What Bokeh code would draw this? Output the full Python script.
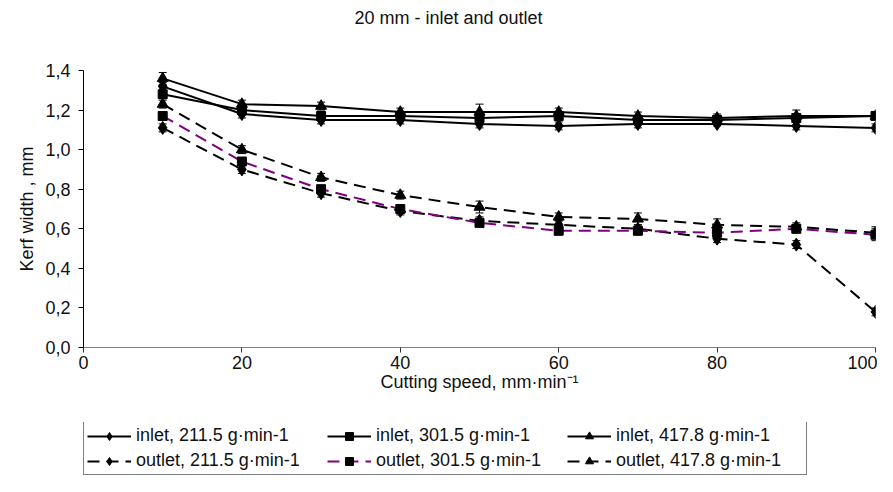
from bokeh.plotting import figure
from bokeh.layouts import column
from bokeh.models import (Legend, LegendItem, ColumnDataSource, Whisker, TeeHead,
                          FixedTicker, CustomJSTickFormatter, Range1d, Title)
from bokeh.embed import file_html
from bokeh.resources import INLINE

speed = [10, 20, 30, 40, 50, 60, 70, 80, 90, 100]

inlet_211 = [1.32, 1.18, 1.15, 1.15, 1.13, 1.12, 1.13, 1.13, 1.12, 1.11]
inlet_301 = [1.28, 1.20, 1.17, 1.17, 1.16, 1.17, 1.15, 1.15, 1.16, 1.17]
inlet_417 = [1.36, 1.23, 1.22, 1.19, 1.19, 1.19, 1.17, 1.16, 1.17, 1.17]
outlet_211 = [1.11, 0.90, 0.78, 0.69, 0.64, 0.62, 0.60, 0.55, 0.52, 0.18]
outlet_301 = [1.17, 0.94, 0.80, 0.70, 0.63, 0.59, 0.59, 0.58, 0.60, 0.57]
outlet_417 = [1.23, 1.00, 0.86, 0.77, 0.71, 0.66, 0.65, 0.62, 0.61, 0.58]

err_inlet_211 = [0.02, 0.02, 0.02, 0.02, 0.02, 0.02, 0.02, 0.01, 0.02, 0.02]
err_inlet_301 = [0.02, 0.02, 0.02, 0.02, 0.02, 0.02, 0.02, 0.02, 0.02, 0.02]
err_inlet_417 = [0.03, 0.02, 0.02, 0.02, 0.04, 0.02, 0.02, 0.02, 0.03, 0.02]
err_outlet_211 = [0.02, 0.02, 0.02, 0.02, 0.02, 0.02, 0.02, 0.02, 0.02, 0.02]
err_outlet_301 = [0.02, 0.02, 0.02, 0.02, 0.02, 0.02, 0.02, 0.02, 0.02, 0.03]
err_outlet_417 = [0.02, 0.02, 0.02, 0.02, 0.03, 0.02, 0.03, 0.03, 0.02, 0.03]

labels = ["inlet, 211.5 g\u00b7min-1", "inlet, 301.5 g\u00b7min-1", "inlet, 417.8 g\u00b7min-1",
          "outlet, 211.5 g\u00b7min-1", "outlet, 301.5 g\u00b7min-1", "outlet, 417.8 g\u00b7min-1"]
x_ticks = [0, 20, 40, 60, 80, 100]
y_ticks = [0.0, 0.2, 0.4, 0.6, 0.8, 1.0, 1.2, 1.4]

FONT = "Liberation Sans"
FS = "18px"

p = figure(width=877, height=422, output_backend="svg", toolbar_location=None,
           x_range=Range1d(0, 100), y_range=Range1d(0, 1.4),
           min_border_left=83, min_border_right=2, min_border_top=70, min_border_bottom=75)
p.outline_line_color = None
p.xgrid.visible = False
p.ygrid.visible = False

# spacer (nearest the frame) then the real title above it
spacer = Title(text=" ", text_font_size="10px", standoff=30)
p.add_layout(spacer, "above")
ttl = Title(text="20 mm - inlet and outlet", align="left", offset=271,
            text_font=FONT, text_font_size=FS, text_font_style="normal",
            text_color="#111111", standoff=0)
p.add_layout(ttl, "above")

p.xaxis.ticker = FixedTicker(ticks=x_ticks)
p.yaxis.ticker = FixedTicker(ticks=y_ticks)
p.yaxis.formatter = CustomJSTickFormatter(code="return tick.toFixed(1).replace('.', ',');")
for ax in (p.xaxis, p.yaxis):
    ax.major_label_text_font = FONT
    ax.major_label_text_font_size = FS
    ax.major_label_text_color = "#111111"
    ax.axis_label_text_font = FONT
    ax.axis_label_text_font_size = FS
    ax.axis_label_text_font_style = "normal"
    ax.axis_label_text_color = "#111111"
    ax.minor_tick_line_color = None
    ax.major_tick_out = 5
    ax.major_tick_in = 0
p.xaxis.axis_line_color = "#808080"
p.xaxis.major_tick_line_color = "#333333"
p.yaxis.axis_line_color = "#000000"
p.yaxis.major_tick_line_color = "#000000"
p.xaxis.axis_label = "Cutting speed, mm\u00b7min\u207b\u00b9"
p.yaxis.axis_label = "Kerf width , mm"
p.xaxis.major_label_standoff = 3
p.xaxis.axis_label_standoff = 0
p.yaxis.major_label_standoff = 8
p.yaxis.axis_label_standoff = 5

series = [
    (inlet_211, err_inlet_211, "diamond", 13, "solid", "black"),
    (inlet_301, err_inlet_301, "square", 9, "solid", "black"),
    (inlet_417, err_inlet_417, "triangle", 11, "solid", "black"),
    (outlet_211, err_outlet_211, "diamond", 13, "12 7", "black"),
    (outlet_301, err_outlet_301, "square", 9, "12 7", "#800080"),
    (outlet_417, err_outlet_417, "triangle", 11, "12 7", "black"),
]

# second strip holding only the legend
q = figure(width=877, height=54, output_backend="svg", toolbar_location=None,
           x_range=Range1d(0, 1), y_range=Range1d(0, 1),
           min_border_left=0, min_border_right=0, min_border_top=0, min_border_bottom=0,
           x_axis_location=None, y_axis_location=None)
q.outline_line_color = None
q.xgrid.visible = False
q.ygrid.visible = False

items = []
for (vals, errs, marker, msize, dash, color), label in zip(series, labels):
    src = ColumnDataSource(dict(x=speed, y=vals,
                                upper=[v + e for v, e in zip(vals, errs)],
                                lower=[v - e for v, e in zip(vals, errs)]))
    p.line("x", "y", source=src, line_color=color, line_width=2, line_dash=dash)
    w = Whisker(base="x", upper="upper", lower="lower", source=src,
                line_color="black", line_width=1,
                upper_head=TeeHead(size=8, line_color="black", line_width=1),
                lower_head=TeeHead(size=8, line_color="black", line_width=1))
    p.add_layout(w)
    p.scatter("x", "y", source=src, marker=marker, size=msize,
              fill_color="black", line_color="black")
    # legend samples (renderers hidden, only their legend glyphs show)
    lr = q.line("x", "y", source=src, line_color=color, line_width=2, line_dash=dash,
                visible=False)
    sr = q.scatter("x", "y", source=src, marker=marker, size=msize,
                   fill_color="black", line_color="black", visible=False)
    items.append(LegendItem(label=label, renderers=[lr, sr]))

legend = Legend(items=items, orientation="horizontal", ncols=3, location=(0, 1))
legend.label_text_font = FONT
legend.label_text_font_size = FS
legend.label_text_color = "#111111"
legend.border_line_color = "black"
legend.border_line_width = 1
legend.background_fill_color = "white"
legend.background_fill_alpha = 1
legend.inactive_fill_alpha = 0
legend.glyph_width = 44
legend.label_width = 187
legend.spacing = 4
legend.padding = 3
legend.margin = 0
legend.label_standoff = 5
legend.click_policy = "none"
q.add_layout(legend, "center")

layout = column(p, q, spacing=0)
open("out.html", "w").write(file_html(layout, INLINE))
